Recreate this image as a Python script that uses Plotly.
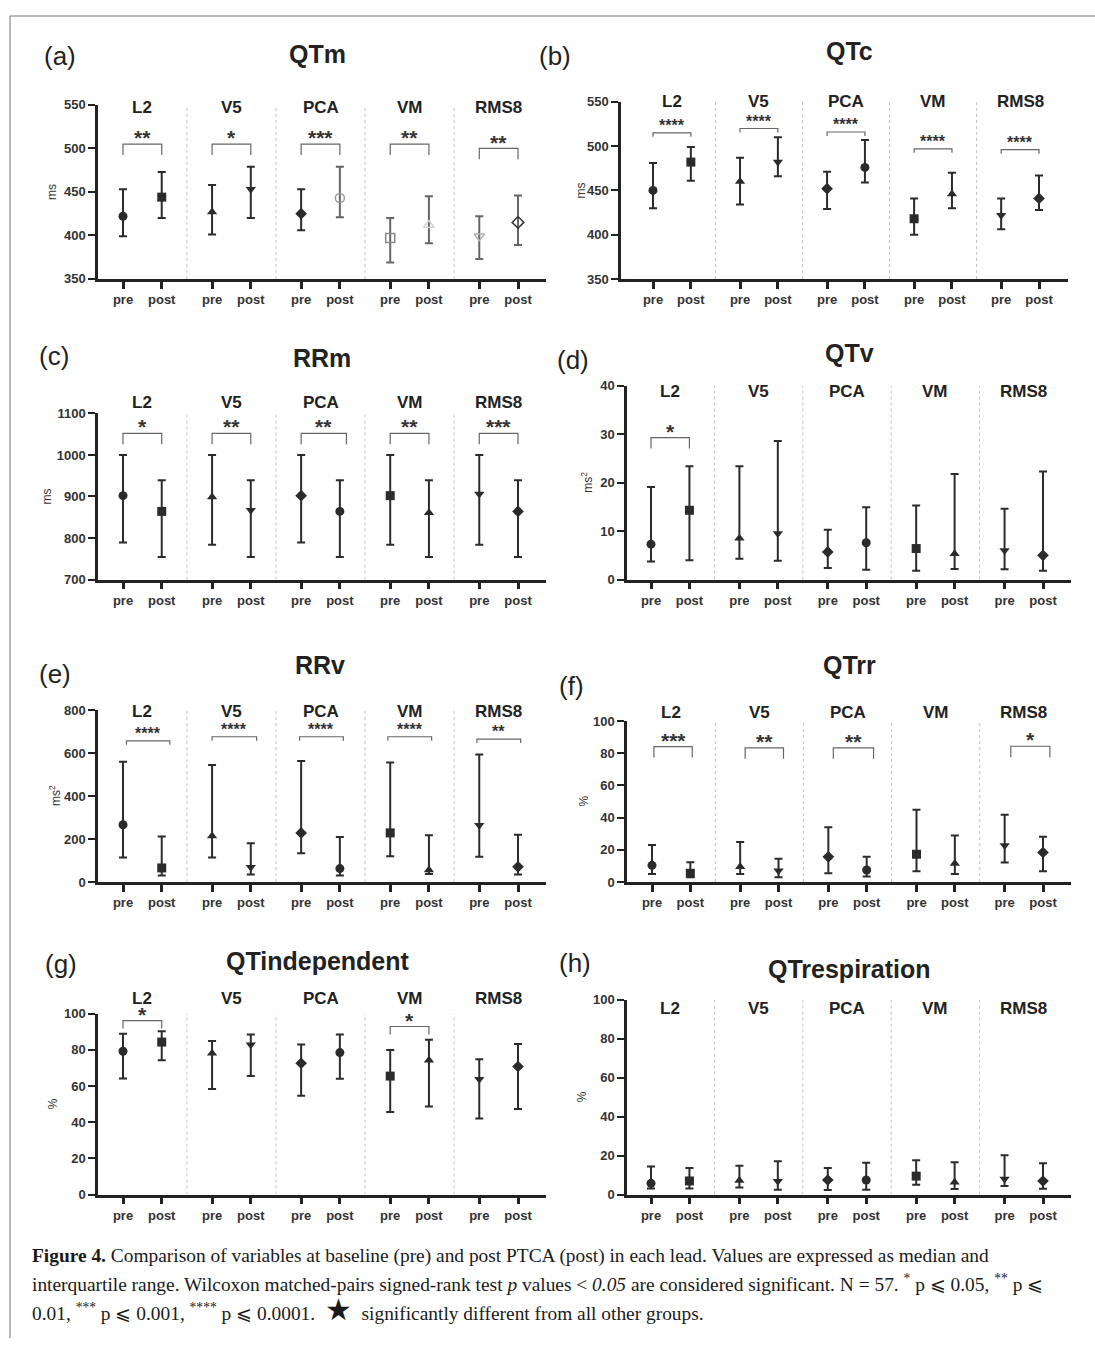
import plotly.graph_objects as go

W, H = 1095, 1346

LEADS = ["L2", "V5", "PCA", "VM", "RMS8"]
PHASES = ["pre", "post"]

# ---------------- data (median, 1st quartile, 3rd quartile) ----------------
# order: L2 pre, L2 post, V5 pre, V5 post, PCA pre, PCA post, VM pre, VM post, RMS8 pre, RMS8 post
qtm_med = [422, 444, 427, 453, 425, 443, 397, 412, 399, 415]
qtm_q1 = [399, 420, 401, 420, 406, 421, 369, 391, 373, 389]
qtm_q3 = [453, 473, 458, 479, 453, 479, 420, 445, 422, 446]
qtm_sig_h = [505, 505, 505, 505, 500]
qtm_sig = ["**", "*", "***", "**", "**"]
qtm_ticks = [350, 400, 450, 500, 550]

qtc_med = [450, 482, 460, 482, 452, 476, 418, 446, 422, 441]
qtc_q1 = [430, 461, 434, 466, 429, 459, 400, 430, 406, 428]
qtc_q3 = [481, 499, 487, 510, 471, 507, 441, 470, 441, 467]
qtc_sig_h = [515, 520, 516, 497, 496]
qtc_sig = ["****", "****", "****", "****", "****"]
qtc_ticks = [350, 400, 450, 500, 550]

rrm_med = [902, 864, 899, 867, 902, 864, 902, 861, 906, 864]
rrm_q1 = [789, 754, 784, 754, 789, 754, 784, 754, 784, 754]
rrm_q3 = [1000, 939, 1000, 939, 1000, 939, 1000, 939, 1000, 939]
rrm_sig_h = [1052, 1052, 1052, 1052, 1052]
rrm_sig = ["*", "**", "**", "**", "***"]
rrm_ticks = [700, 800, 900, 1000, 1100]

qtv_med = [7.3, 14.3, 8.5, 9.5, 5.7, 7.6, 6.4, 5.3, 6.0, 5.0]
qtv_q1 = [3.7, 4.0, 4.3, 3.9, 2.4, 2.0, 1.8, 2.2, 2.1, 1.8]
qtv_q3 = [19.1, 23.4, 23.4, 28.6, 10.3, 14.9, 15.3, 21.8, 14.6, 22.3]
qtv_sig_h = [29.3, None, None, None, None]
qtv_sig = ["*", "", "", "", ""]
qtv_ticks = [0, 10, 20, 30, 40]

rrv_med = [267, 66, 215, 69, 229, 63, 229, 57, 264, 71]
rrv_q1 = [115, 31, 115, 35, 134, 31, 120, 38, 118, 35]
rrv_q3 = [560, 212, 545, 181, 563, 210, 556, 218, 594, 220]
rrv_sig_h = [657, 676, 676, 676, 665]
rrv_sig = ["****", "****", "****", "****", "**"]
rrv_ticks = [0, 200, 400, 600, 800]

qtrr_med = [10.4, 5.5, 9.6, 7.1, 15.7, 7.5, 17.3, 11.6, 22.8, 18.4]
qtrr_q1 = [5.1, 3.1, 5.1, 3.1, 5.5, 3.5, 6.7, 5.1, 12.2, 6.7]
qtrr_q3 = [23.1, 12.4, 24.9, 14.5, 34.1, 15.7, 44.9, 29.0, 41.8, 28.2]
qtrr_sig_h = [84.1, 83.3, 83.3, None, 84.3]
qtrr_sig = ["***", "**", "**", "", "*"]
pct_ticks = [0, 20, 40, 60, 80, 100]

qti_med = [79.2, 84.3, 78.1, 82.8, 72.6, 78.5, 65.5, 74.3, 63.7, 70.8]
qti_q1 = [64.2, 74.3, 58.4, 65.5, 54.6, 64.0, 45.6, 48.7, 42.0, 47.3]
qti_q3 = [88.9, 90.3, 84.9, 88.5, 83.0, 88.5, 79.9, 85.6, 74.8, 83.2]
qti_sig_h = [96.2, None, None, 92.9, None]
qti_sig = ["*", "", "", "*", ""]

qtr_med = [5.8, 7.0, 7.3, 6.8, 7.5, 7.5, 9.5, 6.4, 8.0, 7.0]
qtr_q1 = [3.2, 3.2, 3.7, 2.5, 2.4, 2.5, 5.1, 2.9, 4.4, 3.0]
qtr_q3 = [14.4, 13.6, 14.8, 17.1, 13.7, 16.3, 17.6, 16.6, 20.2, 16.1]
qtr_sig_h = [None, None, None, None, None]
qtr_sig = ["", "", "", "", ""]

# ---------------- styles ----------------
FONT = "Arial, Liberation Sans, sans-serif"
SERIF = "Liberation Serif, Times New Roman, serif"
DARK = "#2b2b2b"
GROUP_STEP = 2.3

SYM = ["circle", "square", "triangle-up", "triangle-down", "diamond"] * 2
SYM_A = ["circle", "square", "triangle-up", "triangle-down", "diamond",
         "circle-open", "square-open", "triangle-up-open", "triangle-down-open", "diamond-open"]
MCOL_A = [DARK] * 5 + ["#9a9a9a", "#8a8a8a", "#d0d0d0", "#b0b0b0", "#333333"]
BCOL_A = [DARK] * 5 + ["#666666"] * 5
SIZE = {"circle": 9, "square": 9, "triangle-up": 9, "triangle-down": 9, "diamond": 9}

panels = [
    dict(letter="(a)", title="QTm", yt="ms", med=qtm_med, q1=qtm_q1, q3=qtm_q3, sh=qtm_sig_h, sg=qtm_sig,
         ticks=qtm_ticks, px=(98, 546, 123, 518), py=(99, 275), lab_y=102, tpos=(317, 48), lpos=(42, 50),
         ytx=52, star=21, drop=11, off=None, sym=SYM_A, mcol=MCOL_A, bcol=BCOL_A),
    dict(letter="(b)", title="QTc", yt="ms", med=qtc_med, q1=qtc_q1, q3=qtc_q3, sh=qtc_sig_h, sg=qtc_sig,
         ticks=qtc_ticks, px=(621, 1068, 653, 1039), py=(96, 275), lab_y=96, tpos=(849, 45), lpos=(537, 50),
         ytx=581, star=16, drop=4, off=None),
    dict(letter="(c)", title="RRm", yt="ms", med=rrm_med, q1=rrm_q1, q3=rrm_q3, sh=rrm_sig_h, sg=rrm_sig,
         ticks=rrm_ticks, px=(98, 546, 123, 518), py=(411, 579), lab_y=400, tpos=(322, 355), lpos=(37, 353),
         ytx=47, star=21, drop=11, off=[(0, 0), (0, 0), (0, 0.17), (0, 0), (0, 0)]),
    dict(letter="(d)", title="QTv", yt="ms<sup>2</sup>", med=qtv_med, q1=qtv_q1, q3=qtv_q3, sh=qtv_sig_h, sg=qtv_sig,
         ticks=qtv_ticks, px=(627, 1071, 651, 1043), py=(383, 579), lab_y=389, tpos=(849, 350), lpos=(555, 357),
         ytx=587, star=21, drop=11, off=None),
    dict(letter="(e)", title="RRv", yt="ms<sup>2</sup>", med=rrv_med, q1=rrv_q1, q3=rrv_q3, sh=rrv_sig_h, sg=rrv_sig,
         ticks=rrv_ticks, px=(98, 546, 123, 518), py=(711, 885), lab_y=712, tpos=(320, 665), lpos=(37, 675),
         ytx=55, star=16, drop=4,
         off=[(0.09, 0.21), (0, 0.15), (-0.04, 0.09), (-0.06, 0.07), (-0.06, 0.07)]),
    dict(letter="(f)", title="QTrr", yt="%", med=qtrr_med, q1=qtrr_q1, q3=qtrr_q3, sh=qtrr_sig_h, sg=qtrr_sig,
         ticks=pct_ticks, px=(627, 1071, 652, 1043), py=(722, 885), lab_y=713, tpos=(849, 665), lpos=(557, 687),
         ytx=584, star=21, drop=11,
         off=[(0.05, 0.05), (0.13, 0.13), (0.13, 0.18), (0, 0), (0.16, 0.18)]),
    dict(letter="(g)", title="QTindependent", yt="%", med=qti_med, q1=qti_q1, q3=qti_q3, sh=qti_sig_h, sg=qti_sig,
         ticks=pct_ticks, px=(98, 546, 123, 518), py=(1018, 1201), lab_y=1003, tpos=(318, 965), lpos=(43, 968),
         ytx=53, star=21, drop=8, off=None),
    dict(letter="(h)", title="QTrespiration", yt="%", med=qtr_med, q1=qtr_q1, q3=qtr_q3, sh=qtr_sig_h, sg=qtr_sig,
         ticks=pct_ticks, px=(627, 1071, 651, 1043), py=(1004, 1201), lab_y=1013, tpos=(849, 973), lpos=(557, 967),
         ytx=582, star=21, drop=8, off=None),
]


def pxx(v):
    return v / W


def pxy(v):
    return 1 - v / H


xpos = []
for g in range(len(LEADS)):
    xpos += [g * GROUP_STEP, g * GROUP_STEP + 1]
xtext = PHASES * len(LEADS)

fig = go.Figure()
shapes = []
annotations = []
layout_axes = {}

for i, p in enumerate(panels):
    n = i + 1
    xa = "x" if n == 1 else f"x{n}"
    ya = "y" if n == 1 else f"y{n}"
    al, ar, first, last = p["px"]
    top, bot = p["py"]
    ppu = (last - first) / xpos[-1]
    xr = [(al - first) / ppu, (ar - first) / ppu]
    ymin, ymax = p["ticks"][0], p["ticks"][-1]
    ypu = (bot - top) / (ymax - ymin)

    layout_axes["xaxis" if n == 1 else f"xaxis{n}"] = dict(
        domain=[pxx(al), pxx(ar)], range=xr, anchor=ya, showline=True, linecolor="#222",
        linewidth=2.5, ticks="outside", ticklen=7, tickwidth=3, tickcolor="#222",
        tickvals=xpos, ticktext=xtext, showgrid=False, zeroline=False, fixedrange=True,
        tickfont=dict(family=FONT, size=13, color="#333", weight="bold"))
    layout_axes["yaxis" if n == 1 else f"yaxis{n}"] = dict(
        domain=[pxy(bot), pxy(top)], range=[ymin, ymax], anchor=xa, showline=True, linecolor="#222",
        linewidth=2.5, ticks="outside", ticklen=7, tickwidth=2, tickcolor="#222",
        tickvals=p["ticks"], showgrid=False, zeroline=False, fixedrange=True,
        tickfont=dict(family=FONT, size=13, color="#333", weight="bold"))

    sym = p.get("sym", SYM)
    mcol = p.get("mcol", [DARK] * 10)
    bcol = p.get("bcol", [DARK] * 10)
    for k in range(10):
        s = sym[k]
        base = s.replace("-open", "")
        fig.add_trace(go.Scatter(
            x=[xpos[k]], y=[p["med"][k]], mode="markers", xaxis=xa, yaxis=ya,
            showlegend=False, hoverinfo="skip", cliponaxis=False,
            marker=dict(symbol=s, size=SIZE[base], color=mcol[k],
                        line=dict(width=1.5 if s.endswith("open") else 0, color=mcol[k])),
            error_y=dict(type="data", symmetric=False,
                         array=[p["q3"][k] - p["med"][k]],
                         arrayminus=[p["med"][k] - p["q1"][k]],
                         color=bcol[k], thickness=2, width=4)))

    # dotted separators between leads
    for g in range(len(LEADS) - 1):
        xs = g * GROUP_STEP + 1 + (GROUP_STEP - 1) / 2
        shapes.append(dict(type="line", xref=xa, yref=ya, x0=xs, x1=xs, y0=ymin, y1=ymax,
                           line=dict(color="#c4c4c4", width=1, dash="dot")))

    # lead labels
    for g, lead in enumerate(LEADS):
        annotations.append(dict(text=f"<b>{lead}</b>", xref=xa, yref="paper",
                                x=g * GROUP_STEP + 0.5, y=pxy(p["lab_y"]), showarrow=False,
                                xanchor="center", yanchor="middle",
                                font=dict(family=FONT, size=17, color="#222")))

    # significance brackets
    d = p["drop"] / ypu
    for g in range(len(LEADS)):
        h = p["sh"][g]
        if h is None:
            continue
        dl, dr = p["off"][g] if p["off"] else (0, 0)
        x0 = g * GROUP_STEP + dl
        x1 = g * GROUP_STEP + 1 + dr
        shapes.append(dict(type="path", xref=xa, yref=ya,
                           path=f"M {x0},{h - d} L {x0},{h} L {x1},{h} L {x1},{h - d}",
                           line=dict(color="#666", width=1.2)))
        annotations.append(dict(text=f"<b>{p['sg'][g]}</b>", xref=xa, yref=ya,
                                x=(x0 + x1) / 2, y=h, yshift=11 - 0.22 * p["star"],
                                showarrow=False, xanchor="center", yanchor="middle",
                                font=dict(family=FONT, size=p["star"], color="#333")))

    # titles
    annotations.append(dict(text=f"<b>{p['title']}</b>", xref="paper", yref="paper",
                            x=pxx(p["tpos"][0]), y=pxy(p["tpos"][1]), showarrow=False,
                            xanchor="center", yanchor="middle",
                            font=dict(family=FONT, size=25, color="#222")))
    annotations.append(dict(text=p["letter"], xref="paper", yref="paper",
                            x=pxx(p["lpos"][0]), y=pxy(p["lpos"][1]), showarrow=False,
                            xanchor="left", yanchor="middle",
                            font=dict(family=FONT, size=26, color="#222")))
    annotations.append(dict(text=p["yt"], xref="paper", yref="paper", textangle=-90,
                            x=pxx(p["ytx"]), y=pxy((top + bot) / 2), showarrow=False,
                            xanchor="center", yanchor="middle",
                            font=dict(family=FONT, size=12, color="#333")))

# frame lines
shapes.append(dict(type="line", xref="paper", yref="paper", x0=pxx(10), x1=1, y0=pxy(9), y1=pxy(9),
                   line=dict(color="#a0a0a0", width=1.5)))
shapes.append(dict(type="line", xref="paper", yref="paper", x0=pxx(10), x1=pxx(10), y0=0, y1=pxy(9),
                   line=dict(color="#a0a0a0", width=1.5)))

caption = [
    "<b>Figure 4.</b> Comparison of variables at baseline (pre) and post PTCA (post) in each lead. Values are expressed as median and",
    "interquartile range. Wilcoxon matched-pairs signed-rank test <i>p</i> values &lt; <i>0.05</i> are considered significant. N = 57. <sup>*</sup> p ⩽ 0.05, <sup>**</sup> p ⩽",
    "0.01, <sup>***</sup> p ⩽ 0.001, <sup>****</sup> p ⩽ 0.0001.  <span style='font-size:30px'>★</span>  significantly different from all other groups.",
]
for j, (line, yy) in enumerate(zip(caption, [1263, 1290, 1317])):
    annotations.append(dict(text=line, xref="paper", yref="paper", x=pxx(30), y=pxy(yy),
                            showarrow=False, xanchor="left", yanchor="middle", align="left",
                            font=dict(family=SERIF, size=19.4, color="#1a1a1a")))

fig.update_layout(
    width=W, height=H, autosize=False,
    margin=dict(l=0, r=0, t=0, b=0),
    paper_bgcolor="white", plot_bgcolor="white",
    shapes=shapes, annotations=annotations,
    **layout_axes,
)

fig.write_html("out.html", config={"displayModeBar": False},
               post_script="document.body.style.margin='0';document.body.style.overflow='hidden';")
